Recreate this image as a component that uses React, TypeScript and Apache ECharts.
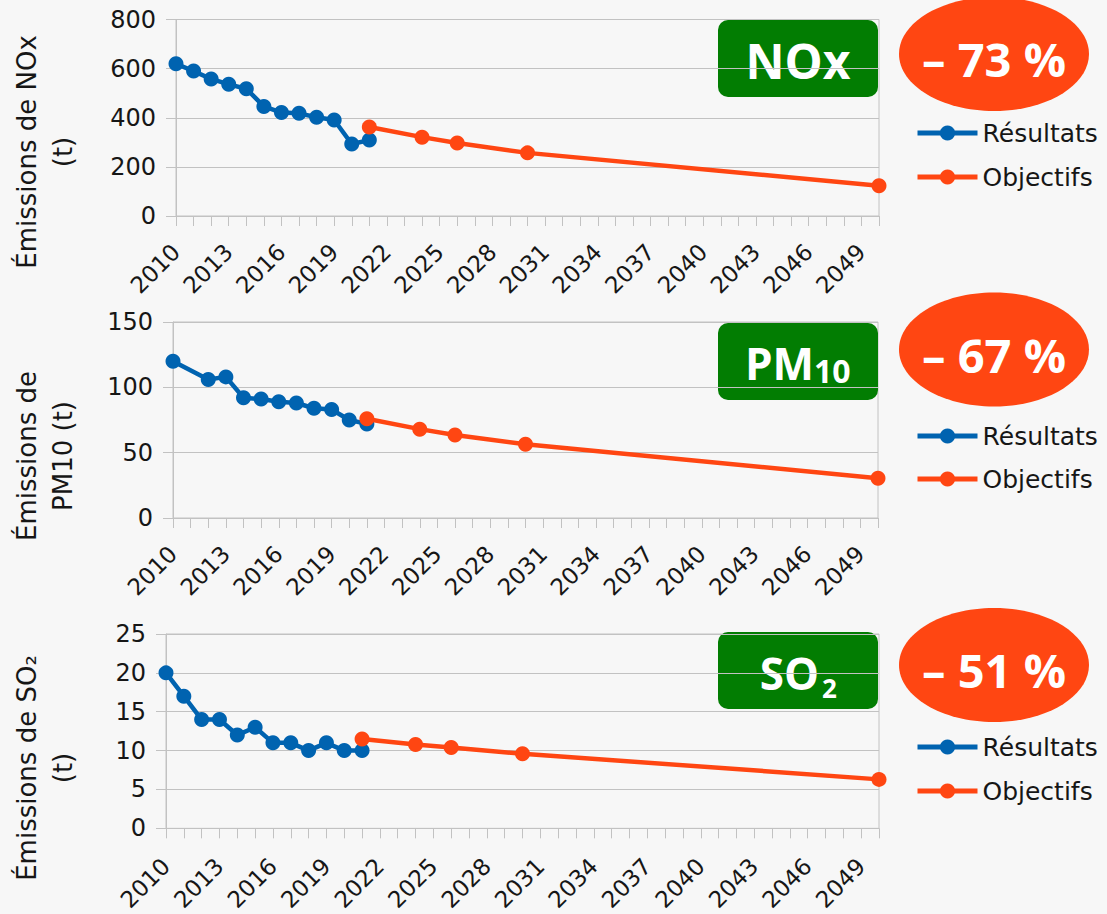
import React, { useEffect, useRef } from 'react';
import * as echarts from 'echarts';

const years = [
  '2010', '2011', '2012', '2013', '2014', '2015', '2016', '2017', '2018', '2019',
  '2020', '2021', '2022', '2023', '2024', '2025', '2026', '2027', '2028', '2029',
  '2030', '2031', '2032', '2033', '2034', '2035', '2036', '2037', '2038', '2039',
  '2040', '2041', '2042', '2043', '2044', '2045', '2046', '2047', '2048', '2049', '2050',
];

const resultYears = ['2010', '2011', '2012', '2013', '2014', '2015', '2016', '2017', '2018', '2019', '2020', '2021'];
const noxResults = [620, 590, 558, 536, 518, 446, 421, 418, 402, 391, 293, 309];
const pm10Results: (number | null)[] = [120, null, 106, 108, 92, 91, 89, 88, 84, 83, 75, 72];
const so2Results = [20, 17, 14, 14, 12, 13, 11, 11, 10, 11, 10, 10];

const objectiveYears = ['2021', '2024', '2026', '2030', '2050'];
const noxObjectives = [362, 321, 297, 257, 123];
const pm10Objectives = [76, 68, 63.5, 56.5, 30.4];
const so2Objectives = [11.5, 10.8, 10.4, 9.6, 6.3];

const yMaxima = [800, 150, 25];
const yIntervals = [200, 50, 5];
const axisTitles = ['Émissions de NOx\n(t)', 'Émissions de\nPM10 (t)', 'Émissions de SO₂\n(t)'];
const reductions = ['– 73 %', '– 67 %', '– 51 %'];
const seriesNames = ['Résultats', 'Objectifs'];

const BLUE = '#0063b0';
const ORANGE = '#ff4612';
const GREEN = '#027d02';
const BG = '#f7f7f7';
const GRID = '#c2c2c2';
const TXT = '#161616';
const FONT = 'DejaVu Sans';
const BFONT = 'Open Sans';

const panels = [
  { grid: { left: 176, top: 19.5, width: 703, height: 196.5 }, titleY: 152, legendTop: 115, legendGap: 18, badgeTop: 20, ellipseY: 54, labelMargin: 32 },
  { grid: { left: 173, top: 322, width: 705, height: 196 }, titleY: 456, legendTop: 418, legendGap: 17, badgeTop: 323, ellipseY: 349.5, labelMargin: 32 },
  { grid: { left: 166, top: 634, width: 713, height: 195.3 }, titleY: 768, legendTop: 729, legendGap: 18, badgeTop: 632, ellipseY: 665, labelMargin: 34 },
];

function pairs(xs: string[], vs: (number | null)[]) {
  const out: [number, number][] = [];
  xs.forEach((x, i) => {
    const v = vs[i];
    if (v !== null && v !== undefined) out.push([years.indexOf(x), v]);
  });
  return out;
}

export default function App() {
  const ref = useRef<HTMLDivElement>(null);
  useEffect(() => {
    document.body.style.margin = '0';
    document.body.style.background = BG;
    if (!ref.current) return;
    const chart = echarts.init(ref.current, undefined, { renderer: 'svg' });
    const results = [noxResults, pm10Results, so2Results];
    const objectives = [noxObjectives, pm10Objectives, so2Objectives];

    const grids: any[] = [];
    const xAxes: any[] = [];
    const yAxes: any[] = [];
    const series: any[] = [];
    const legends: any[] = [];
    const graphics: any[] = [];

    panels.forEach((p, i) => {
      grids.push({ ...p.grid, show: true, borderColor: GRID, borderWidth: 1, backgroundColor: 'transparent' });
      xAxes.push({
        type: 'category',
        gridIndex: i,
        data: years,
        boundaryGap: false,
        axisLine: { lineStyle: { color: GRID, width: 1 } },
        axisTick: { show: true, interval: 0, length: 10, lineStyle: { color: GRID } },
        axisLabel: { interval: 2, rotate: 45, margin: p.labelMargin, fontSize: 23, color: TXT, fontFamily: FONT },
        splitLine: { show: false },
      });
      yAxes.push({
        type: 'value',
        gridIndex: i,
        min: 0,
        max: yMaxima[i],
        interval: yIntervals[i],
        axisLine: { show: true, lineStyle: { color: GRID } },
        axisTick: { show: true, length: 10, lineStyle: { color: GRID } },
        axisLabel: { margin: 20, fontSize: 24, color: TXT, fontFamily: FONT },
        splitLine: { show: true, lineStyle: { color: GRID, width: 1 } },
      });
      series.push({
        name: seriesNames[0],
        type: 'line',
        xAxisIndex: i,
        yAxisIndex: i,
        data: pairs(resultYears, results[i]),
        symbol: 'circle',
        symbolSize: 15,
        showSymbol: true,
        showAllSymbol: true,
        lineStyle: { color: BLUE, width: 4.5 },
        itemStyle: { color: BLUE },
        z: 3,
      });
      series.push({
        name: seriesNames[1],
        type: 'line',
        xAxisIndex: i,
        yAxisIndex: i,
        data: pairs(objectiveYears, objectives[i]),
        symbol: 'circle',
        symbolSize: 15,
        showSymbol: true,
        showAllSymbol: true,
        lineStyle: { color: ORANGE, width: 4.5 },
        itemStyle: { color: ORANGE },
        z: 4,
      });
      legends.push({
        orient: 'vertical',
        left: 910,
        top: p.legendTop,
        itemGap: p.legendGap,
        itemWidth: 60,
        itemHeight: 19,
        data: seriesNames,
        lineStyle: { width: 5 },
        textStyle: { fontSize: 25, lineHeight: 26, color: TXT, fontFamily: FONT },
        selectedMode: false,
      });
      graphics.push({
        type: 'text',
        x: 45,
        y: p.titleY,
        rotation: Math.PI / 2,
        style: {
          text: axisTitles[i],
          fontSize: 26,
          lineHeight: 36,
          fontFamily: FONT,
          fill: TXT,
          align: 'center',
          verticalAlign: 'middle',
        },
      });
      graphics.push({
        type: 'rect',
        shape: { x: 718, y: p.badgeTop, width: 160, height: 77, r: 10 },
        style: { fill: GREEN },
      });
      graphics.push({
        type: 'ellipse',
        shape: { cx: 994, cy: p.ellipseY, rx: 95, ry: 57 },
        style: { fill: ORANGE },
      });
      graphics.push({
        type: 'text',
        x: 994,
        y: p.ellipseY + 5,
        style: {
          text: reductions[i],
          fontSize: 47,
          fontWeight: 'bold',
          fontFamily: BFONT,
          fill: '#ffffff',
          align: 'center',
          verticalAlign: 'middle',
        },
      });
    });

    // badge labels
    graphics.push({
      type: 'text', x: 798, y: 60,
      style: { text: 'NOx', fontSize: 48, fontWeight: 'bold', fontFamily: BFONT, fill: '#fff', align: 'center', verticalAlign: 'middle' },
    });
    graphics.push({
      type: 'text', x: 814, y: 363,
      style: { text: 'PM', fontSize: 44, fontWeight: 'bold', fontFamily: BFONT, fill: '#fff', align: 'right', verticalAlign: 'middle' },
    });
    graphics.push({
      type: 'text', x: 814, y: 370,
      style: { text: '10', fontSize: 32, fontWeight: 'bold', fontFamily: BFONT, fill: '#fff', align: 'left', verticalAlign: 'middle' },
    });
    graphics.push({
      type: 'text', x: 819, y: 673,
      style: { text: 'SO', fontSize: 44, fontWeight: 'bold', fontFamily: BFONT, fill: '#fff', align: 'right', verticalAlign: 'middle' },
    });
    graphics.push({
      type: 'text', x: 822, y: 688,
      style: { text: '2', fontSize: 26, fontWeight: 'bold', fontFamily: BFONT, fill: '#fff', align: 'left', verticalAlign: 'middle' },
    });

    chart.setOption({
      animation: false,
      backgroundColor: BG,
      textStyle: { fontFamily: FONT },
      grid: grids,
      xAxis: xAxes,
      yAxis: yAxes,
      legend: legends,
      series,
      graphic: graphics,
    });
    return () => chart.dispose();
  }, []);
  return <div ref={ref} style={{ width: 1107, height: 914 }} />;
}
